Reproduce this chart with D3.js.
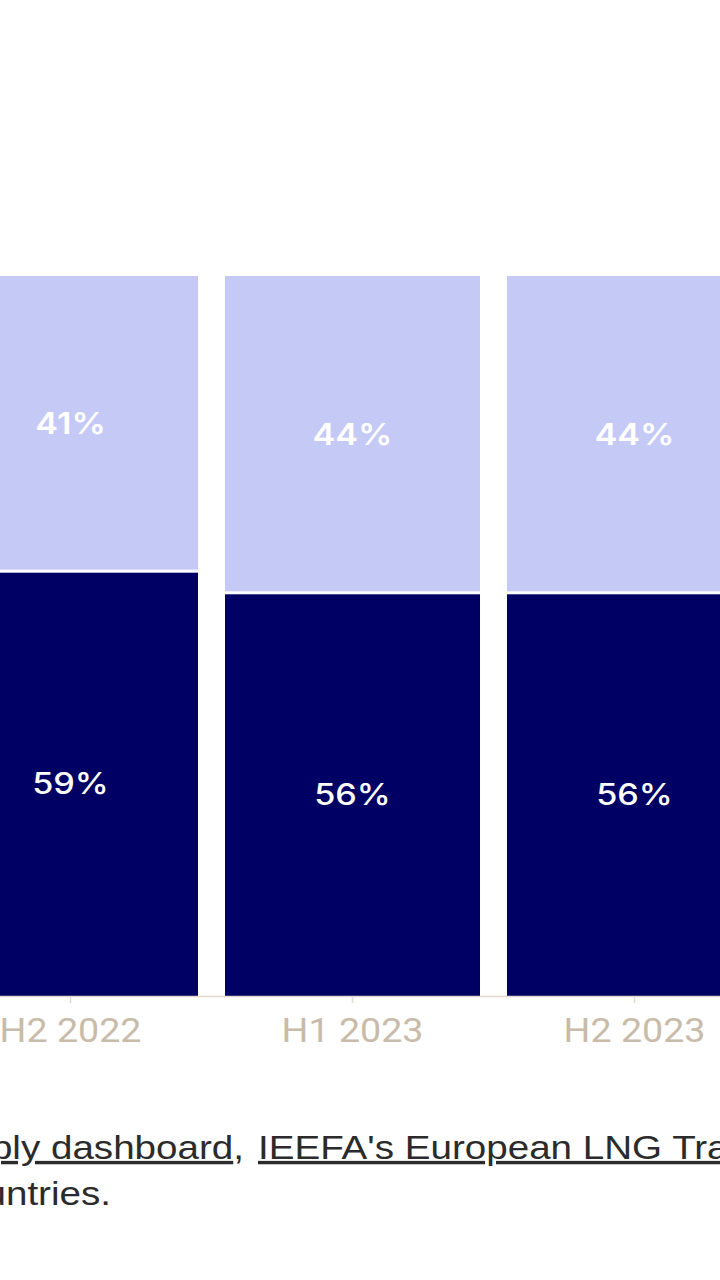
<!DOCTYPE html>
<html>
<head>
<meta charset="utf-8">
<script src="https://cdn.jsdelivr.net/npm/d3@7"></script>
<style>
  html, body { margin: 0; padding: 0; background: #ffffff; }
  svg { display: block; }
</style>
</head>
<body>
<svg id="chart" width="720" height="1280"></svg>
<script>
// ---- data ----
const categories = ["H2 2022", "H1 2023", "H2 2023"];
const bottomShare = [59, 56, 56];   // dark navy segment (%)
const topShare    = [41, 44, 44];   // light lavender segment (%)
const sourceLine1a = "Supply dashboard";
const sourceLine1b = "IEEFA's European LNG Tracker";
const sourceLine2  = "countries.";

// ---- layout ----
const svg = d3.select("#chart");
const colDark = "#000064";
const colLight = "#c4c9f5";
const axisCol = "#e2d8cb";
const tickTextCol = "#c9bba9";
const stretch = 1.14;
const srcStretch = 1.135;

const x = d3.scaleBand()
  .domain(categories)
  .range([-70.5, 775.5])
  .paddingInner(27 / 282)
  .paddingOuter(27 / 564);

const y = d3.scaleLinear().domain([0, 100]).range([996, 276]);

const rows = categories.map((c, i) => ({ cat: c, bottom: bottomShare[i], top: topShare[i] }));

const g = svg.append("g");

// dark bottom segments
g.selectAll("rect.dark").data(rows).enter().append("rect")
  .attr("class", "dark")
  .attr("x", d => x(d.cat))
  .attr("width", x.bandwidth())
  .attr("y", d => y(d.bottom) + 1.5)
  .attr("height", d => y(0) - y(d.bottom) - 1.5)
  .attr("fill", colDark);

// light top segments
g.selectAll("rect.light").data(rows).enter().append("rect")
  .attr("class", "light")
  .attr("x", d => x(d.cat))
  .attr("width", x.bandwidth())
  .attr("y", d => y(d.bottom + d.top))
  .attr("height", d => y(d.bottom) - y(d.bottom + d.top) - 1.5)
  .attr("fill", colLight);

// value labels
const cx = d => x(d.cat) + x.bandwidth() / 2;
g.selectAll("text.lblTop").data(rows).enter().append("text")
  .attr("transform", d => `translate(${cx(d)},${(y(d.bottom + d.top) + y(d.bottom)) / 2}) scale(${stretch},1)`)
  .attr("text-anchor", "middle")
  .attr("dominant-baseline", "central")
  .attr("font-family", "Inter, 'Noto Sans', sans-serif")
  .attr("font-weight", 600)
  .attr("font-size", 30)
  .attr("fill", "#ffffff")
  .text(d => d.top + "%");

g.selectAll("text.lblBot").data(rows).enter().append("text")
  .attr("transform", d => `translate(${cx(d)},${(y(d.bottom) + y(0)) / 2}) scale(${stretch},1)`)
  .attr("text-anchor", "middle")
  .attr("dominant-baseline", "central")
  .attr("font-family", "Inter, 'Noto Sans', sans-serif")
  .attr("font-weight", 500)
  .attr("font-size", 30)
  .attr("fill", "#ffffff")
  .text(d => d.bottom + "%");

// x axis
const axis = d3.axisBottom(x).tickSize(7).tickSizeOuter(0).tickPadding(16);
const ax = svg.append("g").attr("transform", `translate(0,${y(0)})`).call(axis);
ax.select(".domain").attr("stroke", axisCol).attr("stroke-width", 1.5);
ax.selectAll(".tick line").attr("stroke", axisCol).attr("stroke-width", 1.5);
ax.selectAll(".tick text")
  .attr("font-family", "Roboto, sans-serif")
  .attr("font-size", 33)
  .attr("fill", tickTextCol)
  .attr("transform", `scale(${stretch},1)`);

// source note (partially cropped)
const src = svg.append("g")
  .attr("font-family", "'Liberation Sans', Arial, sans-serif")
  .attr("font-size", 34)
  .attr("fill", "#2b2b2b");

const t1 = src.append("text")
  .attr("transform", `translate(244,1159) scale(${srcStretch},1)`)
  .attr("text-anchor", "end");
t1.append("tspan").attr("text-decoration", "underline").text(sourceLine1a);
t1.append("tspan").text(",");

src.append("text")
  .attr("transform", `translate(258,1159) scale(${srcStretch},1)`)
  .attr("text-decoration", "underline")
  .text(sourceLine1b);

src.append("text")
  .attr("transform", `translate(111,1205) scale(${srcStretch},1)`)
  .attr("text-anchor", "end")
  .text(sourceLine2);
</script>
</body>
</html>
